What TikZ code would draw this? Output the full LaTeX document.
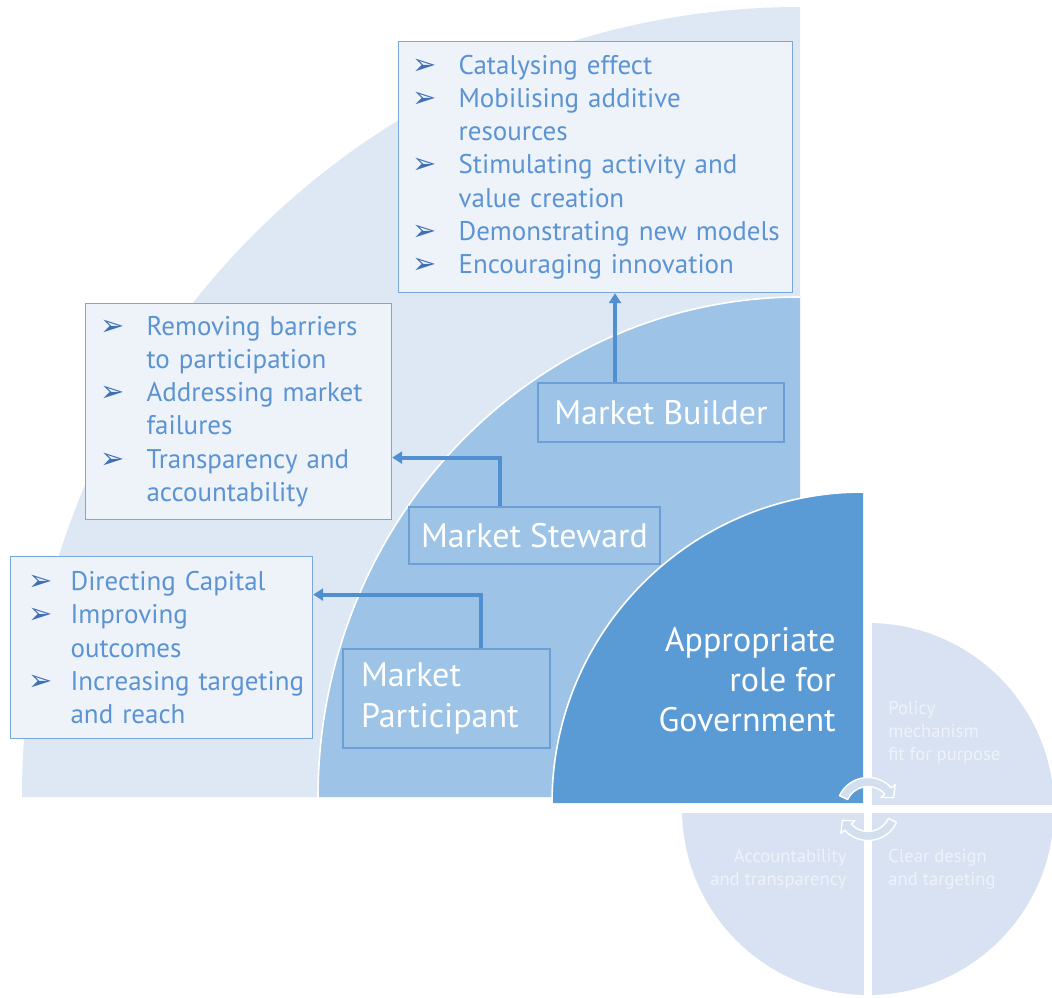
\documentclass[tikz,border=0pt]{standalone}
\usepackage{fontspec}
\setmainfont{PT Sans}
\newfontfamily\dejavu{DejaVu Sans}
\usetikzlibrary{arrows.meta,calc}
\definecolor{lightreg}{HTML}{DDE8F4}
\definecolor{midreg}{HTML}{9DC3E6}
\definecolor{darkreg}{HTML}{5B9BD5}
\definecolor{boxfill}{HTML}{EEF3FA}
\definecolor{boxline}{HTML}{78A7DB}
\definecolor{listtext}{HTML}{5B93D3}
\definecolor{bulletc}{HTML}{3F6FB5}
\definecolor{lblline}{HTML}{6C9FD6}
\definecolor{arrowc}{HTML}{5090D0}
\definecolor{quadc}{HTML}{D9E2F3}
\definecolor{quadtext}{HTML}{EEF2FA}
\definecolor{cycc}{HTML}{D3DFEF}
\newlength\bw
\setlength\bw{23pt}
\newcommand{\bul}{{\dejavu\color{bulletc}\fontsize{14.5}{14.5}\selectfont ➢}}
\newcommand{\bi}[1]{\makebox[\bw][l]{\bul}\mbox{#1}}
\newcommand{\ci}[1]{\hspace*{\bw}\mbox{#1}}
\hbadness=10000 \hfuzz=20pt
\begin{document}
\begin{tikzpicture}[x=0.5pt,y=0.5pt,
 listbox/.style={draw=boxline, line width=0.6pt, fill=boxfill, text=listtext,
   font=\fontsize{13.5}{16.6}\selectfont, align=left, inner xsep=7pt, inner ysep=0pt, anchor=north west},
 lblbox/.style={draw=lblline, line width=0.7pt, fill=midreg, text=white,
   font=\fontsize{17}{20.5}\selectfont, inner sep=0pt},
 govtext/.style={text=white, font=\fontsize{17}{20}\selectfont, inner sep=0pt},
 conn/.style={draw=arrowc, line width=2pt, -{Triangle[width=6pt,length=5pt]}},
 quadlbl/.style={text=quadtext, font=\fontsize{9.3}{11.5}\selectfont, inner sep=0pt},
 arcline/.style={draw=white, line width=0.8pt},
 cycarrow/.style={fill=cycc, draw=white, line width=0.7pt, line join=round},
]
\useasboundingbox (0,0) rectangle (1052,997);
% regions
\fill[lightreg] (22,200) -- (800,200) -- (800,990) arc[start angle=90, end angle=180, x radius=389pt, y radius=395pt] -- cycle;
\fill[midreg] (318,200) -- (800,200) -- (800,700) arc[start angle=90, end angle=180, x radius=241pt, y radius=250pt] -- cycle;
\draw[arcline] (800,700) arc[start angle=90, end angle=180, x radius=241pt, y radius=250pt];
% circle quadrants
\begin{scope}
\clip (868,188) circle[radius=93pt];
\fill[quadc] (872,192) rectangle (1060,400);
\fill[quadc] (872,184) rectangle (1060,-10);
\fill[quadc] (864,184) rectangle (600,-10);
\end{scope}
% dark region
\fill[darkreg] (552,194) -- (863,194) -- (863,505) arc[start angle=90, end angle=180, radius=155.5pt] -- cycle;
\draw[arcline] (863,505) arc[start angle=90, end angle=180, radius=155.5pt];
% cycle arrows
\coordinate (cc) at (868,188);
\path[cycarrow] ($(cc)+(155:15.75pt)$) arc[start angle=155, end angle=42, radius=15.75pt]
  -- ($(cc)+(42:18.25pt)$) -- ($(cc)+(24:14pt)$) -- ($(cc)+(42:8.75pt)$)
  -- ($(cc)+(42:11.25pt)$) arc[start angle=42, end angle=155, radius=11.25pt] -- cycle;
\path[cycarrow] ($(cc)+(-25:15.75pt)$) arc[start angle=-25, end angle=-138, radius=15.75pt]
  -- ($(cc)+(-138:18.25pt)$) -- ($(cc)+(-156:14pt)$) -- ($(cc)+(-138:8.75pt)$)
  -- ($(cc)+(-138:11.25pt)$) arc[start angle=-138, end angle=-25, radius=11.25pt] -- cycle;
% list boxes
\node[listbox, text width=183pt, minimum height=125.5pt] (tb) at (398,956) {%
\bi{Catalysing effect}\\
\bi{Mobilising additive}\\
\ci{resources}\\
\bi{Stimulating activity and}\\
\ci{value creation}\\
\bi{Demonstrating new models}\\
\bi{Encouraging innovation}};
\node[listbox, text width=138pt, minimum height=108pt, inner xsep=7.5pt] (mid) at (85,694) {%
\bi{Removing barriers}\\
\ci{to participation}\\
\bi{Addressing market}\\
\ci{failures}\\
\bi{Transparency and}\\
\ci{accountability}};
\node[listbox, text width=133pt, minimum height=91pt, inner xsep=9pt] (bot) at (10,441) {%
\setlength\bw{21pt}%
\bi{Directing Capital}\\
\bi{Improving}\\
\ci{outcomes}\\
\bi{Increasing targeting}\\
\ci{and reach}};
% label boxes
\node[lblbox, minimum width=123pt, minimum height=29.5pt] (mb) at (661,584.5) {Market Builder};
\node[lblbox, minimum width=125.5pt, minimum height=28.5pt] (ms) at (534.5,461.5) {Market Steward};
\node[lblbox, minimum height=49.5pt, inner xsep=9pt, text width=85.5pt, align=left] (mp) at (446.5,298.5) {Market\\Participant};
% connectors
\draw[conn] ([xshift=-23pt]mb.north) -- ([xshift=-23pt]mb.north |- tb.south);
\draw[conn] ([xshift=-17.25pt]ms.north) |- ([yshift=-23pt]mid.east);
\draw[conn] ([xshift=17.25pt]mp.north) |- ([yshift=26.5pt]bot.east);
% texts
\node[govtext, anchor=east, align=right] (gov) at (836,317) {Appropriate\\role for\\Government};
\node[quadlbl, anchor=west, align=left] (q1) at (888,264) {Policy\\mechanism\\fit for purpose};
\node[quadlbl, anchor=east, align=right] (q2) at (847,127.5) {Accountability\\and transparency};
\node[quadlbl, anchor=west, align=left] (q3) at (888,127.5) {Clear design\\and targeting};
\end{tikzpicture}
\end{document}
